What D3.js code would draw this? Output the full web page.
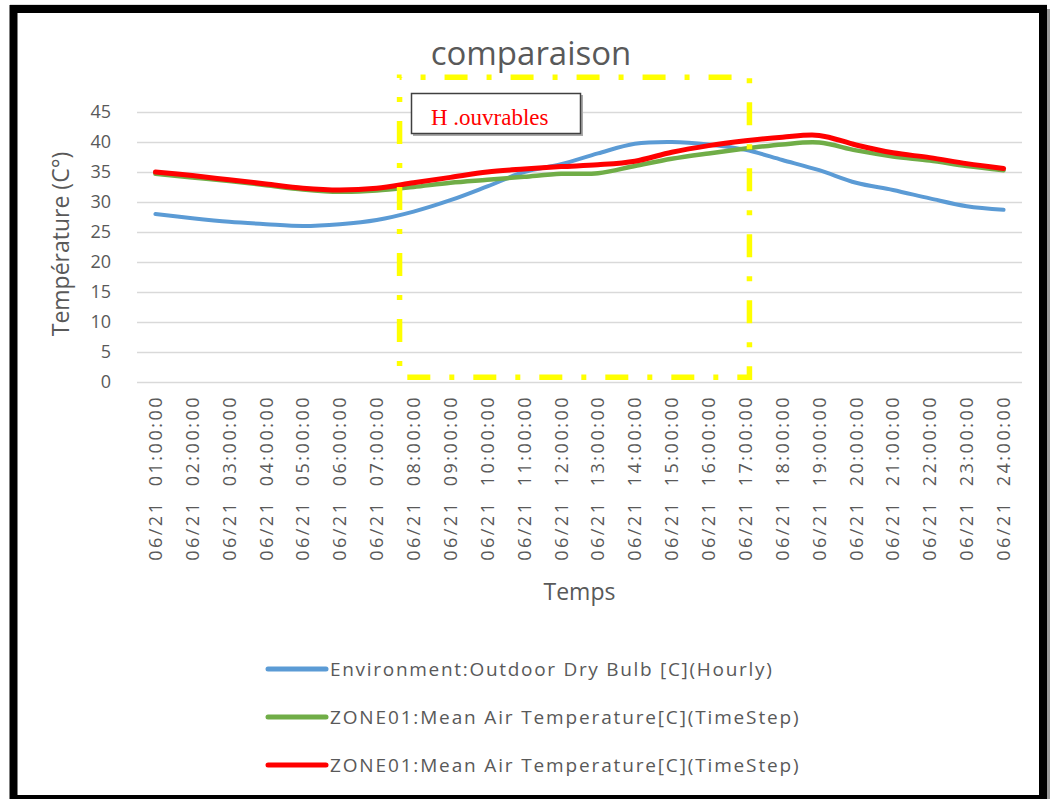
<!DOCTYPE html>
<html><head><meta charset="utf-8">
<script src="https://cdn.jsdelivr.net/npm/d3@7"></script>
<style>
body{margin:0;background:#fff}
</style>
</head><body>
<svg id="chart" width="1054" height="799" font-family="Open Sans, sans-serif"></svg>
<script>
const categories = [
  "06/21  01:00:00","06/21  02:00:00","06/21  03:00:00","06/21  04:00:00",
  "06/21  05:00:00","06/21  06:00:00","06/21  07:00:00","06/21  08:00:00",
  "06/21  09:00:00","06/21  10:00:00","06/21  11:00:00","06/21  12:00:00",
  "06/21  13:00:00","06/21  14:00:00","06/21  15:00:00","06/21  16:00:00",
  "06/21  17:00:00","06/21  18:00:00","06/21  19:00:00","06/21  20:00:00",
  "06/21  21:00:00","06/21  22:00:00","06/21  23:00:00","06/21  24:00:00"
];
const outdoorDryBulb = [28.0,27.3,26.7,26.3,26.0,26.3,27.0,28.4,30.3,32.6,35.0,36.3,38.1,39.7,40.0,39.6,38.7,37.0,35.3,33.2,32.0,30.6,29.3,28.7];
const zoneMeanGreen  = [34.7,34.1,33.5,32.8,32.1,31.7,31.9,32.5,33.2,33.7,34.2,34.7,34.8,36.0,37.2,38.1,38.9,39.6,39.9,38.6,37.6,36.9,36.0,35.3];
const zoneMeanRed    = [35.0,34.4,33.7,33.0,32.3,32.0,32.3,33.2,34.1,35.0,35.5,35.9,36.2,36.8,38.3,39.4,40.2,40.8,41.1,39.5,38.2,37.4,36.4,35.6];
const seriesNames = [
  "Environment:Outdoor Dry Bulb [C](Hourly)",
  "ZONE01:Mean Air Temperature[C](TimeStep)",
  "ZONE01:Mean Air Temperature[C](TimeStep)"
];
const seriesColors = ["#5B9BD5","#70AD47","#FF0000"];
const yTicks = [0,5,10,15,20,25,30,35,40,45];
const chartTitle = "comparaison";
const yTitle = "Température (C°)";
const xTitle = "Temps";
const boxLabel = "H .ouvrables";
const workWindow = ["06/21  08:00:00","06/21  17:00:00"];

const svg = d3.select("#chart");
const L = 137, R = 1022, T = 112, B = 382;
const x = d3.scaleBand().domain(categories).range([L, R]);
const xc = c => x(c) + x.bandwidth()/2;
const y = d3.scaleLinear().domain([0,45]).range([B, T]);
const grey = "#595959";

// frame shadow
svg.append("rect").attr("x",1046).attr("y",9).attr("width",4).attr("height",790).attr("fill","#9a9a9a");
svg.append("line").attr("x1",10).attr("x2",1047).attr("y1",5).attr("y2",5).attr("stroke","#bbb").attr("stroke-width",1);

// title
svg.append("text").attr("x",531).attr("y",65).attr("text-anchor","middle")
  .attr("font-size",33).attr("fill",grey).text(chartTitle);

// y axis + gridlines
const gy = svg.append("g").attr("transform",`translate(${L},0)`)
  .call(d3.axisLeft(y).tickValues(yTicks).tickSize(-(R-L)).tickPadding(26));
gy.select(".domain").remove();
gy.attr("font-family","Open Sans, sans-serif").attr("font-size",18);
gy.selectAll(".tick line").attr("stroke","#d9d9d9").attr("stroke-width",1.4);
gy.selectAll(".tick text").attr("fill",grey);

// x axis labels
const gx = svg.append("g").attr("transform",`translate(0,${B})`)
  .call(d3.axisBottom(x).tickSize(0));
gx.select(".domain").remove();
gx.attr("font-family","Open Sans, sans-serif").attr("font-size",18);
gx.selectAll(".tick text")
  .attr("transform","rotate(-90)")
  .attr("text-anchor","end")
  .attr("x",-13).attr("y",0).attr("dy","0.36em")
  .attr("fill",grey)
  .attr("letter-spacing","2.5px")
  .style("white-space","pre");

// axis titles
svg.append("text").attr("transform",`translate(69,${(T+B)/2-3}) rotate(-90)`)
  .attr("text-anchor","middle").attr("font-size",23).attr("fill",grey).text(yTitle);
svg.append("text").attr("x",(L+R)/2).attr("y",600).attr("text-anchor","middle")
  .attr("font-size",23).attr("fill",grey).text(xTitle);

// lines
const line = d3.line().x((d,i)=>xc(categories[i])).y(d=>y(d)).curve(d3.curveCardinal.tension(0));
const allSeries = [outdoorDryBulb, zoneMeanGreen, zoneMeanRed];
const widths = [4, 4.5, 5];
allSeries.forEach((s,k)=>{
  svg.append("path").datum(s).attr("d",line).attr("fill","none")
    .attr("stroke",seriesColors[k]).attr("stroke-width",widths[k])
    .attr("stroke-linecap","round").attr("stroke-linejoin","round");
});

// yellow dash-dot window
const wx0 = xc(workWindow[0]) - 14, wx1 = xc(workWindow[1]) + 4;
const wy0 = y(50.8), wy1 = y(0.8);
svg.append("path")
  .attr("d",`M${wx0},${wy0}H${wx1}V${wy1}H${wx0}Z`)
  .attr("fill","none").attr("stroke","#FFFF00").attr("stroke-width",5.5)
  .attr("stroke-dasharray","23 19 5 19").attr("stroke-dashoffset",21);

// label box
svg.append("rect").attr("x",413).attr("y",95).attr("width",170).attr("height",41).attr("fill","#aaa");
svg.append("rect").attr("x",411.5).attr("y",93.5).attr("width",169).attr("height",40)
  .attr("fill","#fff").attr("stroke","#404040").attr("stroke-width",1.5);
svg.append("text").attr("x",431).attr("y",125)
  .attr("font-family","Liberation Serif, Times New Roman, serif")
  .attr("font-size",23).attr("fill","#FF0000").style("white-space","pre").text(boxLabel);

// legend
const legY = [669, 717, 765];
const legSpacing = ["1.7px","1.85px","1.85px"];
seriesNames.forEach((n,k)=>{
  svg.append("line").attr("x1",268).attr("x2",326).attr("y1",legY[k]).attr("y2",legY[k])
    .attr("stroke",seriesColors[k]).attr("stroke-width",5).attr("stroke-linecap","round");
  svg.append("text").attr("x",330).attr("y",legY[k]).attr("dy","0.35em")
    .attr("font-size",19).attr("fill",grey).attr("letter-spacing",legSpacing[k]).text(n);
});

// outer black frame
svg.append("rect").attr("x",13.5).attr("y",9).attr("width",1029.5).attr("height",790)
  .attr("fill","none").attr("stroke","#000").attr("stroke-width",8);
</script>
</body></html>
